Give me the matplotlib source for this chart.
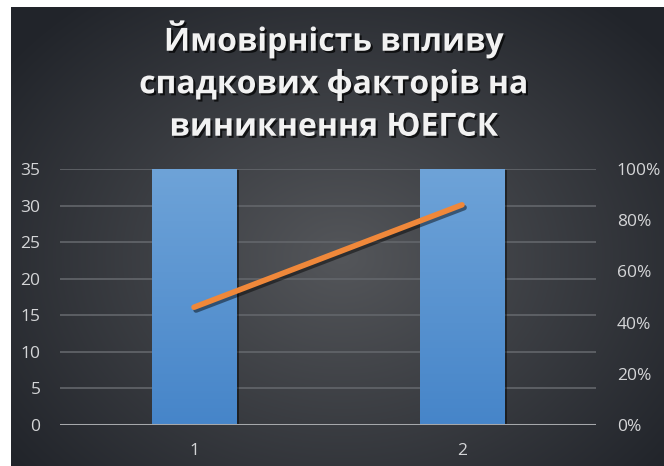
#!/usr/bin/env python3
"""Bar + line combo chart on a dark radial-gradient slide background."""

import matplotlib

matplotlib.use("Agg")
import matplotlib.pyplot as plt
import matplotlib.patheffects as pe
import numpy as np
from matplotlib.colors import LinearSegmentedColormap
from matplotlib.ticker import FuncFormatter, MultipleLocator

plt.rcParams["font.family"] = ["Open Sans", "DejaVu Sans"]

TITLE = "Ймовірність впливу\nспадкових факторів на\nвиникнення ЮЕГСК"
categories = ["1", "2"]
bar_values = [35, 35]
line_share = [0.46, 0.86]

W, H = 664, 466
fig = plt.figure(figsize=(W / 100, H / 100), dpi=100, facecolor="white")

# slide background: radial gradient, lighter towards the middle
bg = fig.add_axes([11 / W, 0, 653 / W, 459 / H], zorder=-5)
yy, xx = np.mgrid[0:459, 0:653]
r = np.sqrt(((xx - 330) / 420.0) ** 2 + ((yy - 250) / 330.0) ** 2)
r = np.clip(r, 0, 1)
light = np.array([84, 86, 90]) / 255
dark = np.array([33, 36, 42]) / 255
img = light[None, None, :] * (1 - r[..., None]) + dark[None, None, :] * r[..., None]
bg.imshow(img, aspect="auto", interpolation="bilinear")
bg.set_axis_off()

ax = fig.add_axes([60 / W, 41 / H, 536 / W, 256 / H])
ax.patch.set_alpha(0)
x = np.arange(len(categories)) + 1

# bar fill: lighter at the top, deeper blue at the base
bar_cmap = LinearSegmentedColormap.from_list("bar", ["#4685c9", "#6ea3d8"])
bars = ax.bar(x, bar_values, width=0.314, color="#5b96d2", zorder=3,
              path_effects=[pe.SimplePatchShadow(offset=(2, -1), alpha=0.45, shadow_rgbFace="black"),
                            pe.Normal()])
grad = np.linspace(0, 1, 256).reshape(-1, 1)
for b in bars:
    x0, y0 = b.get_x(), b.get_y()
    im = ax.imshow(grad, cmap=bar_cmap, aspect="auto", zorder=3.5, origin="lower",
                   extent=[x0, x0 + b.get_width(), y0, y0 + b.get_height()])
    im.set_clip_path(b)

ax.set_xlim(0.5, 2.5)
ax.set_ylim(0, 35)
ax.yaxis.set_major_locator(MultipleLocator(5))
ax.set_xticks(x)
ax.set_xticklabels(categories)
ax.grid(axis="y", color="#63666b", linewidth=1.2, zorder=1)
ax.axhline(0, color="#a6a8ab", linewidth=2.2, zorder=4)
for s in ax.spines.values():
    s.set_visible(False)
ax.tick_params(length=0, colors="#d4d5d7", labelsize=12.5)
ax.tick_params(axis="y", pad=14)
ax.tick_params(axis="x", pad=13)

ax2 = ax.twinx()
ax2.set_ylim(0, 1)
ax2.yaxis.set_major_locator(MultipleLocator(0.2))
ax2.yaxis.set_major_formatter(FuncFormatter(lambda v, _: f"{v * 100:.0f}%"))
for s in ax2.spines.values():
    s.set_visible(False)
ax2.tick_params(length=0, colors="#d4d5d7", labelsize=12.5, pad=15)
ax2.plot(x, line_share, color="#f0883a", linewidth=4, solid_capstyle="round", zorder=5,
         path_effects=[pe.SimpleLineShadow(offset=(1.5, -2), alpha=0.45, shadow_color="black"),
                       pe.Normal()])

fig.text(334 / W, 1 - 82 / H, TITLE, ha="center", va="center", color="#f2f2f2",
         fontsize=23, fontweight="bold", linespacing=1.38,
         path_effects=[pe.SimplePatchShadow(offset=(1.5, -1.5), alpha=0.7, shadow_rgbFace="black"),
                       pe.Normal()])

fig.savefig("out.png", dpi=100)
